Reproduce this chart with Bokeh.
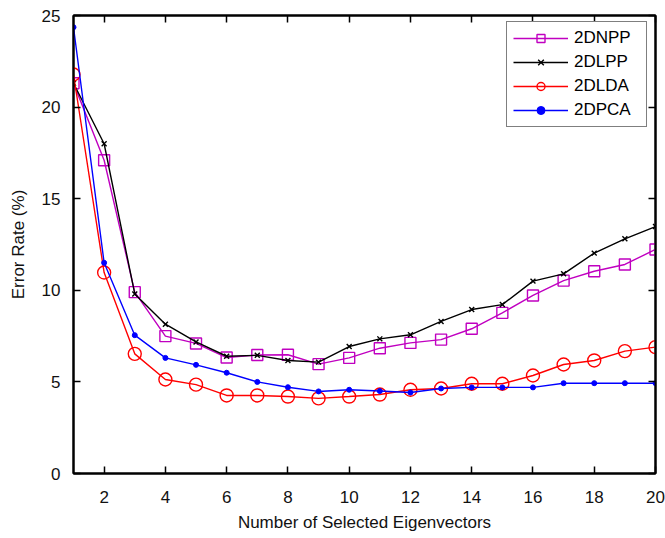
from bokeh.plotting import figure
from bokeh.models import (Range1d, LinearAxis, FixedTicker, Legend, LegendItem,
                          CustomJSTickFormatter)
from bokeh.embed import file_html
from bokeh.resources import INLINE

# ---- data ----
n_eigen = list(range(1, 21))
err_2dnpp = [21.3, 17.1, 9.9, 7.5, 7.1, 6.33, 6.47, 6.48, 5.97, 6.31,
             6.84, 7.13, 7.31, 7.9, 8.77, 9.72, 10.53, 11.04, 11.41, 12.23]
err_2dlpp = [21.3, 18.0, 9.8, 8.15, 7.18, 6.4, 6.45, 6.17, 6.08, 6.93,
             7.35, 7.57, 8.3, 8.95, 9.22, 10.5, 10.9, 12.03, 12.81, 13.48]
err_2dlda = [21.78, 10.97, 6.53, 5.13, 4.85, 4.26, 4.26, 4.2, 4.1, 4.2,
             4.31, 4.57, 4.64, 4.9, 4.9, 5.35, 5.95, 6.17, 6.68, 6.9]
err_2dpca = [24.36, 11.5, 7.55, 6.31, 5.93, 5.5, 5.0, 4.71, 4.48, 4.57,
             4.5, 4.42, 4.64, 4.7, 4.7, 4.7, 4.93, 4.93, 4.93, 4.93]
series_names = ["2DNPP", "2DLPP", "2DLDA", "2DPCA"]
x_ticks = [2, 4, 6, 8, 10, 12, 14, 16, 18, 20]
y_ticks = [0, 5, 10, 15, 20, 25]
x_title = "Number of Selected Eigenvectors"
y_title = "Error Rate (%)"

FONT = "Liberation Sans"

p = figure(width=665, height=538, output_backend="svg", toolbar_location=None,
           x_range=Range1d(1, 20), y_range=Range1d(0, 25),
           min_border_left=73, min_border_right=10, min_border_top=15,
           min_border_bottom=65, x_axis_label=x_title, y_axis_label=y_title)
p.grid.visible = False
p.outline_line_color = "black"
p.outline_line_width = 2
p.background_fill_color = "white"
p.border_fill_color = "white"


def style_axis(ax, ticks, show_labels=True):
    ax.ticker = FixedTicker(ticks=ticks)
    ax.axis_line_color = "black"
    ax.axis_line_width = 2
    ax.major_tick_in = 7
    ax.major_tick_out = 0
    ax.major_tick_line_color = "black"
    ax.major_tick_line_width = 1.5
    ax.minor_tick_line_color = None
    ax.major_label_text_font = FONT
    ax.major_label_text_color = "#111111"
    if show_labels:
        ax.major_label_text_font_size = "17px"
    else:
        ax.major_label_text_font_size = "0px"
        ax.major_label_standoff = 0
        ax.formatter = CustomJSTickFormatter(code="return ''")


xa = p.xaxis[0]
ya = p.yaxis[0]
style_axis(xa, x_ticks)
style_axis(ya, y_ticks)
xa.major_label_standoff = 17
ya.major_label_standoff = 13
for ax in (xa, ya):
    ax.axis_label_text_font = FONT
    ax.axis_label_text_font_size = "17px"
    ax.axis_label_text_font_style = "normal"
    ax.axis_label_text_color = "#111111"
xa.axis_label_standoff = 7
ya.axis_label_standoff = 11

top_ax = LinearAxis()
style_axis(top_ax, x_ticks, show_labels=False)
p.add_layout(top_ax, "above")
right_ax = LinearAxis()
style_axis(right_ax, y_ticks, show_labels=False)
p.add_layout(right_ax, "right")

lw = 1.4
items = []

c = "#c000c0"
l1 = p.line(n_eigen, err_2dnpp, line_color=c, line_width=lw)
s1 = p.scatter(n_eigen, err_2dnpp, marker="square", size=11, line_color=c,
               fill_color=None, line_width=lw)
items.append(LegendItem(label=series_names[0], renderers=[l1, s1]))

c = "black"
l2 = p.line(n_eigen, err_2dlpp, line_color=c, line_width=lw)
s2 = p.scatter(n_eigen, err_2dlpp, marker="x", size=7, line_color=c,
               line_width=lw)
items.append(LegendItem(label=series_names[1], renderers=[l2, s2]))

c = "#ff0000"
l3 = p.line(n_eigen, err_2dlda, line_color=c, line_width=lw)
s3 = p.scatter(n_eigen, err_2dlda, marker="circle", size=13, line_color=c,
               fill_color=None, line_width=lw)
items.append(LegendItem(label=series_names[2], renderers=[l3, s3]))

c = "#0000ff"
l4 = p.line(n_eigen, err_2dpca, line_color=c, line_width=lw)
s4 = p.scatter(n_eigen, err_2dpca, marker="circle", size=5, line_color=c,
               fill_color=c, line_width=1)
items.append(LegendItem(label=series_names[3], renderers=[l4, s4]))

legend = Legend(items=items, location=(433, 346))
legend.border_line_color = "black"
legend.border_line_width = 1
legend.background_fill_color = "white"
legend.background_fill_alpha = 1
legend.label_text_font = FONT
legend.label_text_font_size = "17px"
legend.label_text_color = "black"
legend.glyph_width = 55
legend.glyph_height = 20
legend.label_height = 20
legend.label_width = 66
legend.label_standoff = 6
legend.spacing = 4
legend.padding = 6
legend.margin = 0
p.add_layout(legend)

open("out.html", "w").write(file_html(p, INLINE))
